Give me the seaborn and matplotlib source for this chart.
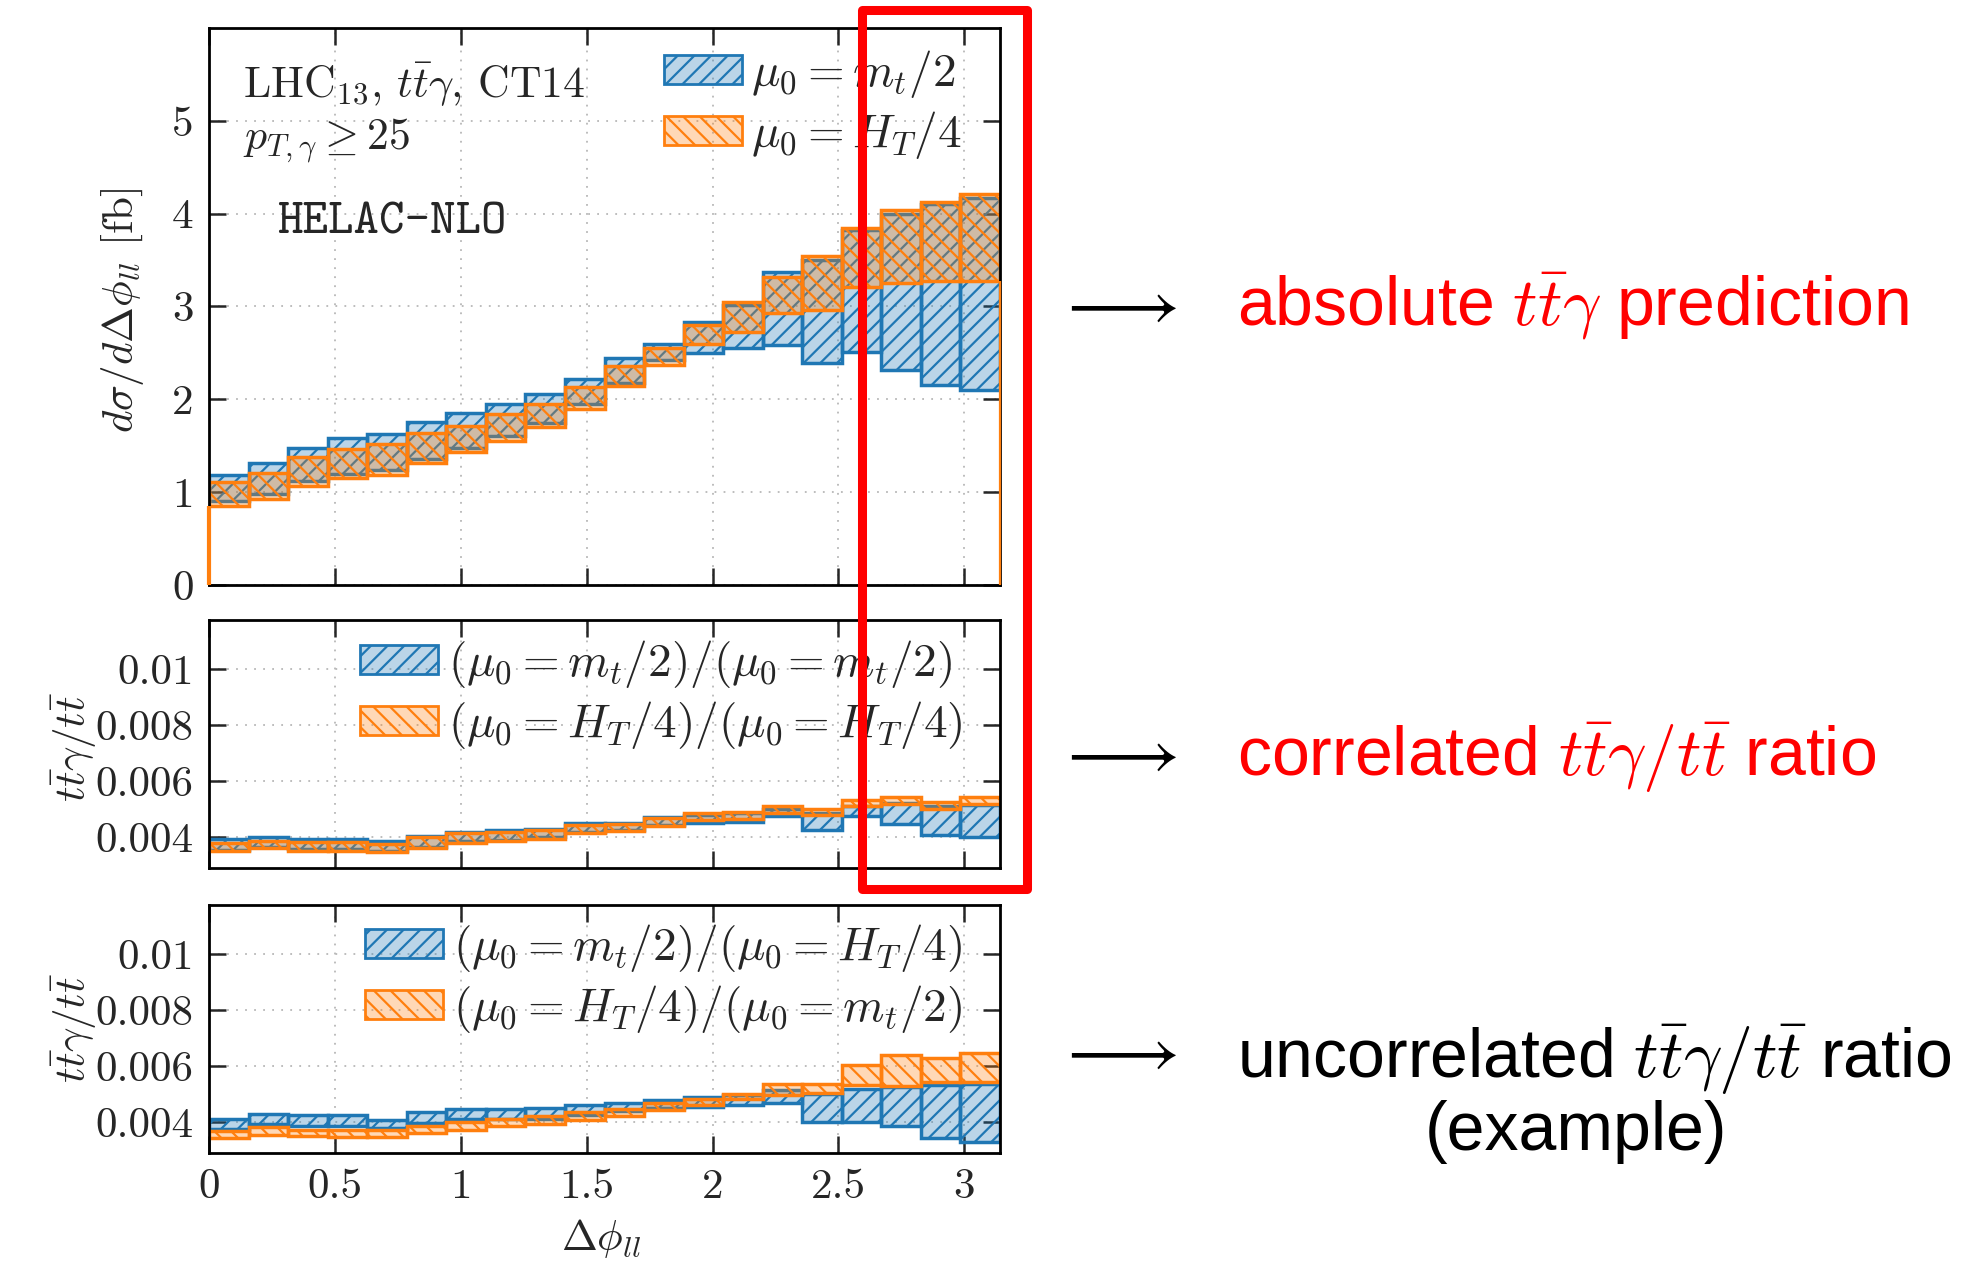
import numpy as np
import matplotlib
matplotlib.use("Agg")
import matplotlib.pyplot as plt
from matplotlib.patches import Patch, Rectangle
import seaborn as sns

# ---------------------------------------------------------------- data
# Delta phi_ll binning: 20 equal bins between 0 and pi
n_bins = 20
bin_edges = np.linspace(0.0, np.pi, n_bins + 1)

# d sigma / d Delta phi_ll [fb], scale-uncertainty envelopes
xs_mt2_lo = [0.90, 0.98, 1.12, 1.20, 1.24, 1.36, 1.48, 1.60, 1.75, 1.95,
             2.18, 2.42, 2.50, 2.55, 2.58, 2.39, 2.51, 2.32, 2.15, 2.10]
xs_mt2_hi = [1.18, 1.31, 1.48, 1.58, 1.63, 1.76, 1.85, 1.95, 2.06, 2.22,
             2.45, 2.60, 2.83, 3.02, 3.37, 3.50, 3.82, 4.00, 4.10, 4.17]
xs_ht4_lo = [0.85, 0.93, 1.07, 1.15, 1.19, 1.31, 1.43, 1.55, 1.70, 1.90,
             2.14, 2.37, 2.60, 2.73, 2.93, 2.96, 3.21, 3.25, 3.27, 3.27]
xs_ht4_hi = [1.11, 1.21, 1.38, 1.47, 1.52, 1.64, 1.71, 1.84, 1.95, 2.13,
             2.36, 2.55, 2.80, 3.05, 3.32, 3.54, 3.85, 4.04, 4.13, 4.21]

# correlated ttgamma / tt ratio
cor_mt2_lo = [0.00355, 0.00365, 0.00358, 0.00358, 0.00352, 0.00365, 0.00385, 0.00390, 0.00400, 0.00420,
              0.00425, 0.00445, 0.00450, 0.00455, 0.00475, 0.00425, 0.00475, 0.00447, 0.00407, 0.00401]
cor_mt2_hi = [0.00392, 0.00402, 0.00395, 0.00395, 0.00388, 0.00405, 0.00420, 0.00425, 0.00428, 0.00450,
              0.00450, 0.00472, 0.00480, 0.00488, 0.00500, 0.00485, 0.00512, 0.00523, 0.00512, 0.00515]
cor_ht4_lo = [0.00350, 0.00360, 0.00352, 0.00352, 0.00347, 0.00360, 0.00380, 0.00386, 0.00395, 0.00415,
              0.00422, 0.00440, 0.00462, 0.00464, 0.00488, 0.00480, 0.00510, 0.00520, 0.00502, 0.00518]
cor_ht4_hi = [0.00378, 0.00388, 0.00382, 0.00382, 0.00375, 0.00400, 0.00415, 0.00420, 0.00425, 0.00444,
              0.00448, 0.00468, 0.00487, 0.00491, 0.00512, 0.00502, 0.00534, 0.00544, 0.00526, 0.00542]

# uncorrelated ttgamma / tt ratio
unc_mt2_lo = [0.00375, 0.00392, 0.00386, 0.00386, 0.00380, 0.00398, 0.00410, 0.00410, 0.00412, 0.00425,
              0.00440, 0.00450, 0.00455, 0.00462, 0.00470, 0.00400, 0.00402, 0.00388, 0.00343, 0.00331]
unc_mt2_hi = [0.00410, 0.00428, 0.00425, 0.00425, 0.00408, 0.00435, 0.00448, 0.00448, 0.00450, 0.00462,
              0.00470, 0.00480, 0.00490, 0.00498, 0.00515, 0.00500, 0.00520, 0.00527, 0.00533, 0.00538]
unc_ht4_lo = [0.00343, 0.00355, 0.00349, 0.00347, 0.00347, 0.00361, 0.00373, 0.00385, 0.00394, 0.00409,
              0.00421, 0.00445, 0.00463, 0.00484, 0.00498, 0.00504, 0.00534, 0.00528, 0.00542, 0.00542]
unc_ht4_hi = [0.00369, 0.00381, 0.00372, 0.00371, 0.00371, 0.00387, 0.00399, 0.00411, 0.00423, 0.00435,
              0.00448, 0.00468, 0.00482, 0.00502, 0.00536, 0.00536, 0.00605, 0.00640, 0.00628, 0.00648]

x_ticks = [0, 0.5, 1, 1.5, 2, 2.5, 3]
x_tick_labels = ["0", "0.5", "1", "1.5", "2", "2.5", "3"]
xs_ticks = [0, 1, 2, 3, 4, 5]
ratio_ticks = [0.004, 0.006, 0.008, 0.01]
ratio_tick_labels = ["0.004", "0.006", "0.008", "0.01"]

# ---------------------------------------------------------------- style
sns.set_theme(style="ticks")
plt.rcParams.update({
    "font.family": ["cmr10", "DejaVu Serif"],
    "mathtext.fontset": "cm",
    "axes.formatter.use_mathtext": True,
    "axes.unicode_minus": False,
    "hatch.linewidth": 1.6,
    "axes.linewidth": 2.0,
    "axes.edgecolor": "black",
})

palette = sns.color_palette("tab10")
c_blue = palette[0]
c_orange = palette[1]
FILL_ALPHA = 0.3
EDGE_LW = 2.5
HATCH_BLUE = "//"
HATCH_ORANGE = "\\\\"

W, H = 1973, 1262
fig = plt.figure(figsize=(W / 100, H / 100), dpi=100)


def box(x0, y0, x1, y1):
    return [x0 / W, 1 - y1 / H, (x1 - x0) / W, (y1 - y0) / H]


def fpos(x, y):
    return x / W, 1 - y / H


ax_top = fig.add_axes(box(209, 28, 1000, 585))
ax_cor = fig.add_axes(box(209, 620, 1000, 868))
ax_unc = fig.add_axes(box(209, 905, 1000, 1153))

widths = np.diff(bin_edges)


def draw_band(ax, lo, hi, color, hatch):
    lo = np.asarray(lo)
    hi = np.asarray(hi)
    ax.bar(bin_edges[:-1], hi - lo, bottom=lo, width=widths, align="edge",
           facecolor=(*color, FILL_ALPHA), edgecolor=color,
           linewidth=EDGE_LW, hatch=hatch, zorder=2)


def style_axes(ax, ylim, yticks, yticklabels, show_x):
    ax.set_xlim(0, np.pi)
    ax.set_ylim(*ylim)
    ax.set_xticks(x_ticks)
    ax.set_xticklabels(x_tick_labels if show_x else [])
    ax.set_yticks(yticks)
    ax.set_yticklabels(yticklabels)
    ax.tick_params(direction="in", length=12, width=1.8, top=True, right=True,
                   labelsize=31, pad=11)
    ax.tick_params(axis="x", pad=11)
    ax.grid(True, linestyle=(0, (1, 4)), color="#b8b8b8", linewidth=1.3)
    ax.set_axisbelow(True)
    for sp in ax.spines.values():
        sp.set_linewidth(2.0)
        sp.set_zorder(2.5)


def legend_handles():
    hb = Patch(facecolor=(*c_blue, FILL_ALPHA), edgecolor=c_blue, hatch=HATCH_BLUE, linewidth=2.0)
    ho = Patch(facecolor=(*c_orange, FILL_ALPHA), edgecolor=c_orange, hatch=HATCH_ORANGE, linewidth=2.0)
    return hb, ho


def add_legend(ax, labels, anchor):
    hb, ho = legend_handles()
    ax.legend([hb, ho], labels, loc="upper right", frameon=False,
              bbox_to_anchor=fpos(*anchor), bbox_transform=fig.transFigure,
              borderpad=0, borderaxespad=0, fontsize=34,
              handlelength=1.65, handleheight=0.58, handletextpad=0.2,
              labelspacing=0.2)


# ---------------- top panel: absolute cross section
draw_band(ax_top, xs_mt2_lo, xs_mt2_hi, c_blue, HATCH_BLUE)
draw_band(ax_top, xs_ht4_lo, xs_ht4_hi, c_orange, HATCH_ORANGE)
ax_top.vlines([0.0], 0, xs_ht4_lo[0], color=c_orange, lw=3.0, zorder=3, clip_on=False)
ax_top.vlines([np.pi], 0, xs_ht4_lo[-1], color=c_orange, lw=1.6, zorder=3, clip_on=False)
style_axes(ax_top, (0, 6), xs_ticks, [str(t) for t in xs_ticks], False)
add_legend(ax_top, [r"$\mu_0 = m_t/2$", r"$\mu_0 = H_T/4$"], (962, 48))

fig.text(*fpos(243, 97), r"LHC$_{13}$, $t\bar{t}\gamma$, CT14", fontsize=31.5, va="baseline")
fig.text(*fpos(243, 150), r"$p_{T,\gamma} \geq 25$", fontsize=31.5, va="baseline")
fig.text(*fpos(277, 233), "HELAC-NLO", fontsize=35, va="baseline", family="cmtt10")

# ---------------- correlated ratio
draw_band(ax_cor, cor_mt2_lo, cor_mt2_hi, c_blue, HATCH_BLUE)
draw_band(ax_cor, cor_ht4_lo, cor_ht4_hi, c_orange, HATCH_ORANGE)
style_axes(ax_cor, (0.0029, 0.01175), ratio_ticks, ratio_tick_labels, False)
add_legend(ax_cor, [r"$(\mu_0 = m_t/2)/(\mu_0 = m_t/2)$", r"$(\mu_0 = H_T/4)/(\mu_0 = H_T/4)$"], (962, 638))

# ---------------- uncorrelated ratio
draw_band(ax_unc, unc_mt2_lo, unc_mt2_hi, c_blue, HATCH_BLUE)
draw_band(ax_unc, unc_ht4_lo, unc_ht4_hi, c_orange, HATCH_ORANGE)
style_axes(ax_unc, (0.0029, 0.01175), ratio_ticks, ratio_tick_labels, True)
add_legend(ax_unc, [r"$(\mu_0 = m_t/2)/(\mu_0 = H_T/4)$", r"$(\mu_0 = H_T/4)/(\mu_0 = m_t/2)$"], (962, 922))

# ---------------- axis labels
fig.text(*fpos(122, 310), r"$d\sigma/d\Delta\phi_{ll}$ [fb]", fontsize=31,
         rotation=90, ha="center", va="center")
fig.text(*fpos(74, 747), r"$t\bar{t}\gamma/t\bar{t}$", fontsize=31,
         rotation=90, ha="center", va="center")
fig.text(*fpos(74, 1028), r"$t\bar{t}\gamma/t\bar{t}$", fontsize=31,
         rotation=90, ha="center", va="center")
fig.text(*fpos(601, 1239), r"$\Delta\phi_{ll}$", fontsize=31, ha="center", va="center")

# ---------------- highlight frame around the large-angle region
fig.patches.append(Rectangle(fpos(862, 889), (1027 - 862) / W, (889 - 10) / H,
                             transform=fig.transFigure, fill=False,
                             edgecolor="#ff0000", linewidth=6.5,
                             joinstyle="round", zorder=10))

# ---------------- annotations on the right
sans = ["Liberation Sans", "DejaVu Sans"]
for y_arrow in (307, 756, 1054):
    fig.text(*fpos(1116, y_arrow), r"$\longrightarrow$", fontsize=51,
             ha="center", va="center", color="black")

fig.text(*fpos(1237, 325), r"absolute $t\bar{t}\gamma$ prediction", fontsize=49,
         color="#ff0000", family=sans, va="baseline")
fig.text(*fpos(1237, 776), r"correlated $t\bar{t}\gamma/t\bar{t}$ ratio", fontsize=49,
         color="#ff0000", family=sans, va="baseline")
fig.text(*fpos(1237, 1078), r"uncorrelated $t\bar{t}\gamma/t\bar{t}$ ratio", fontsize=49,
         color="black", family=sans, va="baseline")
fig.text(*fpos(1576, 1150), "(example)", fontsize=49, color="black",
         family=sans, va="baseline", ha="center")

fig.savefig("out.png", dpi=100)
